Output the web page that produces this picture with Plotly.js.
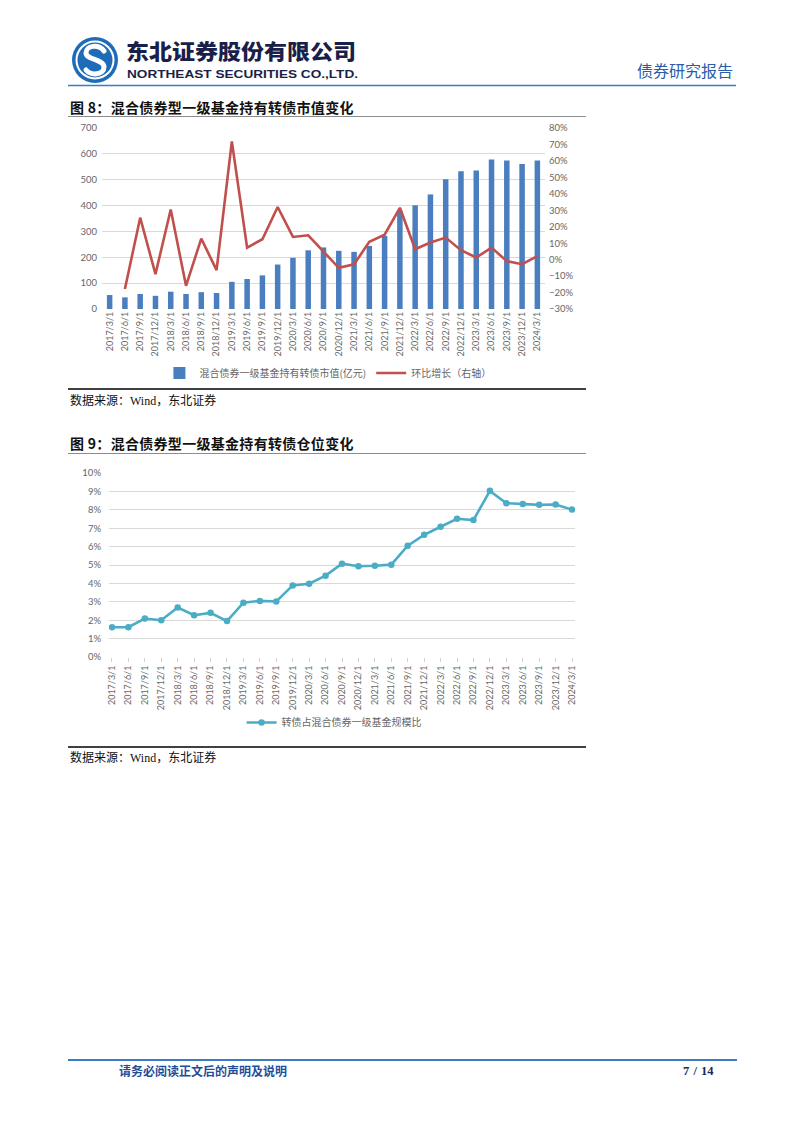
<!DOCTYPE html>
<html>
<head>
<meta charset="utf-8">
<script src="https://cdn.plot.ly/plotly-3.0.1.min.js"></script>
<style>
  html, body { margin:0; padding:0; background:#fff; }
  #page { position:relative; width:802px; height:1133px; background:#fff; overflow:hidden; font-family:"Noto Sans CJK SC", sans-serif; }
  .abs { position:absolute; }
  .ftitle { font-size:14px; font-weight:bold; color:#111; line-height:20px; white-space:nowrap; letter-spacing:0.3px; }
  .src { font-size:12px; color:#111; line-height:16px; white-space:nowrap; }
  .src .en { font-family:"Liberation Serif", serif; }
</style>
</head>
<body>
<div id="page">
  <svg class="abs" style="left:0;top:0" width="802" height="100">
    <circle cx="95" cy="60" r="23" fill="#1E6BB8"/>
    <circle cx="95" cy="60" r="18.5" fill="none" stroke="#ffffff" stroke-width="2"/>
    <path d="M104 51 C 99 44, 86 45, 86 53 C 86 60, 104 59, 104 67 C 104 75, 91 76, 86 70" stroke="#ffffff" stroke-width="5" fill="none" stroke-linecap="round"/>
    <text x="126" y="59" font-family="Noto Sans CJK SC" font-weight="900" font-size="21" fill="#1a1f4a" textLength="230" lengthAdjust="spacingAndGlyphs">东北证券股份有限公司</text>
    <text x="127" y="78" font-family="Liberation Sans" font-weight="bold" font-size="11.5" fill="#1a1f4a" textLength="231" lengthAdjust="spacingAndGlyphs">NORTHEAST SECURITIES CO.,LTD.</text>
    <text x="637" y="77" font-family="Noto Sans CJK SC" font-size="16" fill="#2a5caa" textLength="96" lengthAdjust="spacingAndGlyphs">债券研究报告</text>
    <line x1="68" y1="85.5" x2="736" y2="85.5" stroke="#3b7dc4" stroke-width="1.5"/>
  </svg>

  <div class="abs ftitle" style="left:70px;top:97px;">图 8：混合债券型一级基金持有转债市值变化</div>
  <div class="abs" style="left:68px;top:116px;width:518px;height:1px;background:#8c8c8c;"></div>
  <div id="chart1" class="abs" style="left:0;top:120px;width:802px;height:270px;"></div>
  <div class="abs" style="left:68px;top:388px;width:518px;height:1.5px;background:#404040;"></div>
  <div class="abs src" style="left:70px;top:392px;">数据来源：<span class="en">Wind</span>，东北证券</div>

  <div class="abs ftitle" style="left:70px;top:433px;">图 9：混合债券型一级基金持有转债仓位变化</div>
  <div class="abs" style="left:68px;top:453px;width:518px;height:1px;background:#8c8c8c;"></div>
  <div id="chart2" class="abs" style="left:0;top:460px;width:802px;height:280px;"></div>
  <div class="abs" style="left:68px;top:746px;width:518px;height:1.5px;background:#404040;"></div>
  <div class="abs src" style="left:70px;top:749px;">数据来源：<span class="en">Wind</span>，东北证券</div>

  <div class="abs" style="left:68px;top:1059px;width:669px;height:1.5px;background:#3b7dc4;"></div>
  <div class="abs" style="left:119px;top:1063px;font-size:12px;font-weight:bold;color:#1f4e99;line-height:16px;">请务必阅读正文后的声明及说明</div>
  <div class="abs" style="left:683px;top:1063px;font-size:12.5px;font-weight:bold;color:#1a2a5a;line-height:16px;font-family:'Liberation Serif',serif;word-spacing:1px;">7 / 14</div>
</div>

<script>
// ---- Data ----
var categories = ["2017/3/1","2017/6/1","2017/9/1","2017/12/1","2018/3/1","2018/6/1","2018/9/1","2018/12/1",
  "2019/3/1","2019/6/1","2019/9/1","2019/12/1","2020/3/1","2020/6/1","2020/9/1","2020/12/1",
  "2021/3/1","2021/6/1","2021/9/1","2021/12/1","2022/3/1","2022/6/1","2022/9/1","2022/12/1",
  "2023/3/1","2023/6/1","2023/9/1","2023/12/1","2024/3/1"];
// 混合债券一级基金持有转债市值(亿元)
var holdingValue = [54,45,58,51,67,58,65,62,105,116,130,172,198,227,238,225,221,244,283,380,401,443,502,533,536,578,574,561,574];
// 环比增长（%，右轴）
var qoqGrowth = [null,-17.9,25.5,-8.8,30.5,-15.9,12.8,-6.4,71.8,7.3,12.4,32.0,13.8,14.8,5.0,-5.0,-2.8,10.8,15.2,31.5,6.3,10.4,13.4,5.7,1.3,7.3,-0.9,-2.8,2.1];
// 转债占混合债券一级基金规模比（%）
var cbShare = [1.62,1.62,2.09,2.00,2.69,2.27,2.40,1.95,2.95,3.05,3.02,3.89,3.98,4.42,5.07,4.93,4.96,5.02,6.05,6.64,7.08,7.51,7.44,9.03,8.36,8.32,8.27,8.29,8.01];

var seriesName1 = "混合债券一级基金持有转债市值(亿元)";
var seriesName2 = "环比增长（右轴）";
var seriesName3 = "转债占混合债券一级基金规模比";

var tickFont = {family:"Lato, 'Noto Sans', sans-serif", size:9.5, color:"#666666"};
var legFont = {family:"'Noto Sans CJK SC', sans-serif", size:10, color:"#666666"};

// ---- Chart 1 ----
var t1 = {
  type:"bar", x:categories, y:holdingValue, name:seriesName1,
  marker:{color:"#4A7EBF"}, yaxis:"y"
};
var t2 = {
  type:"scatter", mode:"lines", x:categories, y:qoqGrowth, name:seriesName2,
  line:{color:"#C0504D", width:2.6}, yaxis:"y2", connectgaps:false
};
var layout1 = {
  width:802, height:270,
  margin:{l:102.4, r:257.4, t:8, b:81, autoexpand:false},
  paper_bgcolor:"rgba(0,0,0,0)", plot_bgcolor:"rgba(0,0,0,0)",
  bargap:0.64,
  showlegend:true,
  legend:{orientation:"h", x:0.51, xanchor:"center", y:-0.354, yanchor:"middle", font:legFont, itemwidth:30, traceorder:"normal"},
  xaxis:{type:"category", range:[-0.5,28.5], tickangle:-90, tickfont:{family:tickFont.family,size:9,color:"#666666"},
    showgrid:false, zeroline:false, showline:false, ticks:"", fixedrange:true},
  yaxis:{range:[0,700], dtick:100, tick0:0, tickfont:tickFont, gridcolor:"#d9d9d9", gridwidth:1,
    zeroline:false, showline:false, ticks:"", ticklabelstandoff:4},
  yaxis2:{overlaying:"y", side:"right", range:[-30,80], dtick:10, tick0:-30, ticksuffix:"%", tickfont:tickFont,
    showgrid:false, zeroline:false, showline:false, ticks:"", ticklabelstandoff:3}
};
Plotly.newPlot("chart1", [t1,t2], layout1, {staticPlot:true, displayModeBar:false});

// ---- Chart 2 ----
var t3 = {
  type:"scatter", mode:"lines+markers", x:categories, y:cbShare, name:seriesName3,
  line:{color:"#4BACC6", width:2.6}, marker:{color:"#4BACC6", size:6.5, symbol:"circle"}
};
var layout2 = {
  width:802, height:280,
  margin:{l:109, r:227, t:13.3, b:83.3, autoexpand:false},
  paper_bgcolor:"rgba(0,0,0,0)", plot_bgcolor:"rgba(0,0,0,0)",
  showlegend:true,
  legend:{orientation:"h", x:0.483, xanchor:"center", y:-0.356, yanchor:"middle", font:legFont},
  xaxis:{type:"category", range:[-0.18,28.18], tickangle:-90, tickfont:{family:tickFont.family,size:9,color:"#666666"},
    showgrid:false, zeroline:false, showline:false, ticks:"outside", ticklen:4, tickcolor:"#d0d0d0", tickwidth:1},
  yaxis:{range:[0,10], dtick:1, tick0:0, ticksuffix:"%", tickfont:tickFont, gridcolor:"#d9d9d9", gridwidth:1,
    zeroline:false, showline:false, ticks:"", ticklabelstandoff:7}
};
Plotly.newPlot("chart2", [t3], layout2, {staticPlot:true, displayModeBar:false});
</script>
</body>
</html>
